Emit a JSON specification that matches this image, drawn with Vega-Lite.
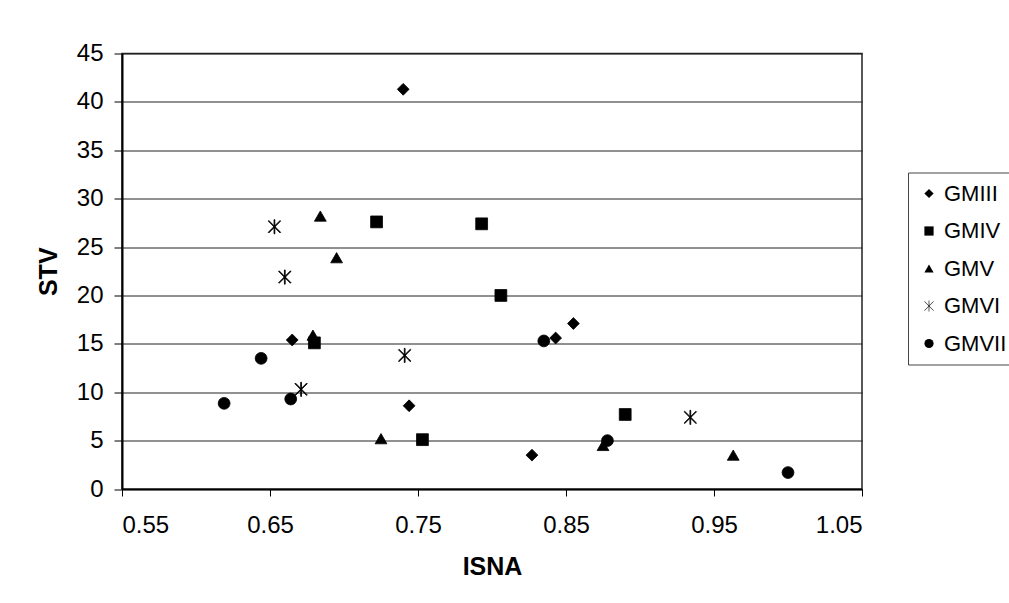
{
  "$schema": "https://vega.github.io/schema/vega-lite/v6.json",
  "autosize": {"type": "none"},
  "width": 740,
  "height": 435.5,
  "padding": {"left": 122, "top": 53.5, "right": 147, "bottom": 114},
  "background": "white",
  "config": {
    "font": "Liberation Sans",
    "view": {"stroke": "#222", "strokeWidth": 1.5},
    "axis": {"labelColor": "black", "titleColor": "black", "labelFont": "Liberation Sans", "titleFont": "Liberation Sans"}
  },
  "data": {
    "values": [
      {"series": "GMIII", "isna": 0.740, "stv": 41.3},
      {"series": "GMIII", "isna": 0.665, "stv": 15.4},
      {"series": "GMIII", "isna": 0.744, "stv": 8.6},
      {"series": "GMIII", "isna": 0.827, "stv": 3.5},
      {"series": "GMIII", "isna": 0.843, "stv": 15.6},
      {"series": "GMIII", "isna": 0.855, "stv": 17.1},
      {"series": "GMIV", "isna": 0.722, "stv": 27.6},
      {"series": "GMIV", "isna": 0.793, "stv": 27.4},
      {"series": "GMIV", "isna": 0.806, "stv": 20.0},
      {"series": "GMIV", "isna": 0.680, "stv": 15.1},
      {"series": "GMIV", "isna": 0.753, "stv": 5.1},
      {"series": "GMIV", "isna": 0.890, "stv": 7.7},
      {"series": "GMV", "isna": 0.684, "stv": 28.2},
      {"series": "GMV", "isna": 0.695, "stv": 23.9},
      {"series": "GMV", "isna": 0.679, "stv": 15.9},
      {"series": "GMV", "isna": 0.725, "stv": 5.2},
      {"series": "GMV", "isna": 0.875, "stv": 4.5},
      {"series": "GMV", "isna": 0.963, "stv": 3.5},
      {"series": "GMVI", "isna": 0.653, "stv": 27.1},
      {"series": "GMVI", "isna": 0.660, "stv": 21.9},
      {"series": "GMVI", "isna": 0.741, "stv": 13.8},
      {"series": "GMVI", "isna": 0.671, "stv": 10.3},
      {"series": "GMVI", "isna": 0.934, "stv": 7.4},
      {"series": "GMVII", "isna": 0.644, "stv": 13.5},
      {"series": "GMVII", "isna": 0.619, "stv": 8.85},
      {"series": "GMVII", "isna": 0.664, "stv": 9.3},
      {"series": "GMVII", "isna": 0.835, "stv": 15.3},
      {"series": "GMVII", "isna": 0.878, "stv": 5.0},
      {"series": "GMVII", "isna": 1.000, "stv": 1.7}
    ]
  },
  "mark": {"type": "point", "filled": true, "fill": "black", "fillOpacity": 1, "stroke": "black", "strokeWidth": 0.8, "size": 140, "opacity": 1},
  "encoding": {
    "x": {
      "field": "isna", "type": "quantitative", "title": "ISNA",
      "scale": {"domain": [0.55, 1.05], "nice": false, "zero": false},
      "axis": {
        "values": [0.55, 0.65, 0.75, 0.85, 0.95, 1.05], "format": ".2f", "grid": false,
        "domainColor": "black", "domainWidth": 1.5, "tickColor": "black", "tickSize": 7,
        "labelFontSize": 24, "labelPadding": 17, "titleFontSize": 25, "titleFontWeight": "bold", "titlePadding": 17
      }
    },
    "y": {
      "field": "stv", "type": "quantitative", "title": "STV",
      "scale": {"domain": [0, 45], "nice": false},
      "axis": {
        "values": [0, 5, 10, 15, 20, 25, 30, 35, 40, 45], "grid": true, "gridColor": "#222", "gridWidth": 1, "gridOpacity": 1,
        "domainColor": "black", "domainWidth": 2, "tickColor": "black", "tickSize": 8,
        "labelFontSize": 24, "labelPadding": 11, "titleFontSize": 25, "titleFontWeight": "bold", "titlePadding": 15
      }
    },
    "shape": {
      "field": "series", "type": "nominal", "title": null,
      "scale": {
        "domain": ["GMIII", "GMIV", "GMV", "GMVI", "GMVII"],
        "range": ["diamond", "square", "triangle-up", "M-0.07,-1.2L0.07,-1.2L0.07,1.2L-0.07,1.2ZM-0.95,-1.05L1.05,0.95L0.95,1.05L-1.05,-0.95ZM1.05,-0.95L-0.95,1.05L-1.05,0.95L0.95,-1.05Z", "circle"]
      },
      "legend": {
        "orient": "none", "legendX": 786, "legendY": 119,
        "strokeColor": "#444", "fillColor": "white", "padding": 10,
        "symbolSize": 85, "symbolFillColor": "black", "symbolStrokeColor": "black", "symbolStrokeWidth": 1,
        "labelFontSize": 22, "labelColor": "black", "labelOffset": 4, "rowPadding": 15.5, "labelLimit": 200
      }
    }
  }
}
